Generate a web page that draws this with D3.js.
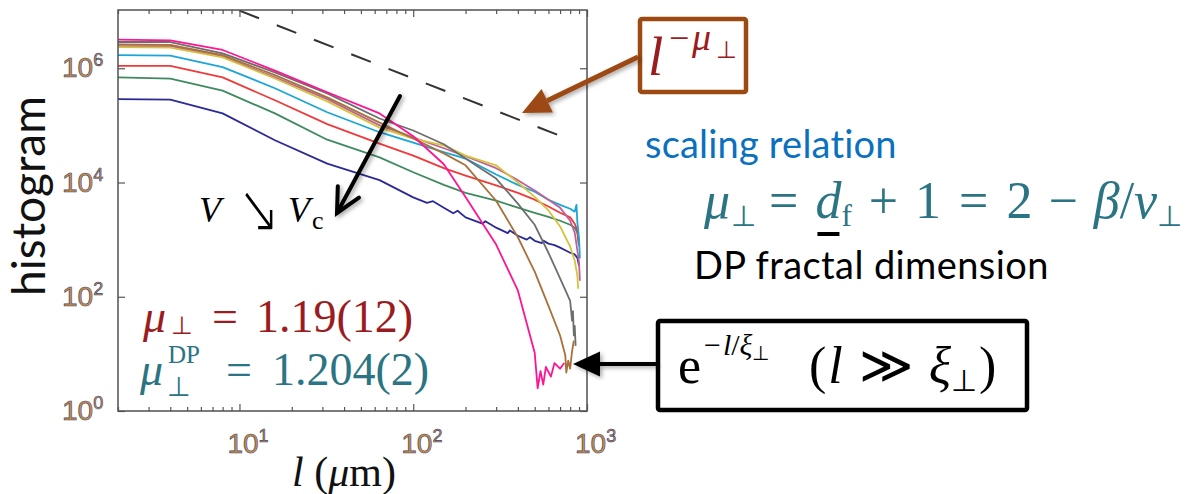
<!DOCTYPE html>
<html>
<head>
<meta charset="utf-8">
<script src="https://cdn.jsdelivr.net/npm/d3@7"></script>
<style>
  body { margin: 0; background: #fff; }
  svg { display: block; }
</style>
</head>
<body>
<svg id="chart" width="1202" height="494"></svg>
<script>
// Histogram curves, one per driving velocity (l in um, counts)
const magentaL = [2, 4, 8, 16, 32, 64, 100, 150, 200, 300, 400, 500, 520, 540, 560, 580, 620, 650, 700, 740];
const magentaN = [3.16e6, 3.09e6, 2.09e6, 9.1e5, 3.8e5, 1.62e5, 6.46e4, 2.09e4, 5.6e3, 820, 129, 10.5, 2.5, 5, 2.9, 5.9, 4, 6.9, 5.5, 6.9];

const grayL = [2, 4, 8, 16, 32, 64, 100, 150, 200, 300, 400, 500, 600, 700, 800, 820, 830, 840, 850, 860];
const grayN = [2.88e6, 2.88e6, 1.82e6, 8.5e5, 3.63e5, 1.32e5, 8.13e4, 4.68e4, 2.63e4, 1.17e4, 4.27e3, 1.82e3, 589, 209, 85, 38, 56, 21, 31, 13.8];

const brownL = [2, 4, 8, 16, 32, 64, 100, 150, 200, 300, 400, 500, 600, 700, 750, 760, 780, 800, 820, 840];
const brownN = [2.63e6, 2.57e6, 1.7e6, 7.59e5, 3.09e5, 1.12e5, 5.89e4, 3.24e4, 2.0e4, 4.79e3, 1.1e3, 275, 69, 21, 9.5, 4.7, 7.6, 5.5, 11, 17];

const mauveL = [2, 4, 8, 16, 32, 64, 100, 150, 200, 300, 400, 500, 600, 700, 800, 850, 880, 900, 910];
const mauveN = [2.45e6, 2.45e6, 1.62e6, 6.92e5, 2.88e5, 1.0e5, 6.17e4, 3.98e4, 2.88e4, 1.78e4, 1.1e4, 7.24e3, 5.0e3, 3.63e3, 2.14e3, 1.32e3, 646, 398, 190];

const yellowL = [2, 4, 8, 16, 32, 64, 100, 150, 200, 300, 400, 500, 600, 700, 800, 850, 880, 890];
const yellowN = [2.34e6, 2.29e6, 1.55e6, 6.61e5, 2.63e5, 9.12e4, 5.89e4, 4.47e4, 2.95e4, 2.0e4, 1.0e4, 5.6e3, 3.24e3, 1.7e3, 759, 427, 234, 138];

const cyanL = [2, 4, 8, 16, 32, 64, 100, 150, 200, 300, 400, 500, 600, 700, 800, 850, 870, 880, 900, 910];
const cyanN = [1.7e6, 1.66e6, 1.05e6, 4.47e5, 1.7e5, 7.59e4, 5.0e4, 3.39e4, 2.63e4, 1.38e4, 9.1e3, 6.9e3, 5.0e3, 4.07e3, 3.47e3, 3.09e3, 4.07e3, 2.0e3, 1.05e3, 468];

const redL = [2, 4, 8, 16, 32, 64, 100, 150, 200, 300, 400, 500, 600, 700, 800, 850, 880, 900];
const redN = [1.1e6, 1.1e6, 6.92e5, 2.75e5, 1.05e5, 4.79e4, 2.95e4, 1.78e4, 1.32e4, 8.9e3, 6.6e3, 5.0e3, 3.8e3, 2.95e3, 2.45e3, 1.9e3, 1.45e3, 776];

const greenL = [2, 4, 8, 16, 32, 64, 100, 150, 200, 300, 400, 500, 600, 700, 800, 850, 880, 900];
const greenN = [6.92e5, 6.61e5, 4.07e5, 1.62e5, 5.62e4, 2.75e4, 1.51e4, 9.1e3, 6.6e3, 4.8e3, 3.63e3, 2.95e3, 2.5e3, 2.14e3, 1.82e3, 1.62e3, 1.32e3, 776];

const navyL = [2, 4, 8, 16, 32, 64, 100, 120, 130, 150, 170, 180, 200, 250, 260, 300, 350, 360, 400, 450, 470, 500, 550, 560, 600, 650, 700, 750, 800, 850, 880, 900];
const navyN = [2.88e5, 2.82e5, 1.62e5, 5.5e4, 2.14e4, 1.1e4, 5.5e3, 4.4e3, 4.7e3, 3.63e3, 2.9e3, 3.2e3, 2.45e3, 1.9e3, 2.1e3, 1.62e3, 1.3e3, 1.45e3, 1.17e3, 1.0e3, 1.1e3, 955, 870, 960, 851, 800, 724, 650, 589, 550, 479, 347];

// colours, drawn in this order (first one at the bottom)
const seriesColors = ["#2a2a96", "#3f8a5e", "#f03a3a", "#1aa6d6", "#c0609a", "#d4c43c", "#6e6e6e", "#a8703a", "#ff1493"];
const seriesL = [navyL, greenL, redL, cyanL, mauveL, yellowL, grayL, brownL, magentaL];
const seriesN = [navyN, greenN, redN, cyanN, mauveN, yellowN, grayN, brownN, magentaN];

// power-law guide l^-mu
const guideL = [10, 767];
const guideN = [1.02e7, 5.9e4];

// tick values
const xMajor = [10, 100, 1000];
const xMinor = [2, 3, 4, 5, 6, 7, 8, 9, 20, 30, 40, 50, 60, 70, 80, 90, 200, 300, 400, 500, 600, 700, 800, 900];
const yMajor = [1, 100, 1e4, 1e6];

const svg = d3.select("#chart");

const pL = 118, pR = 587, pT = 10, pB = 411;
const x = d3.scaleLog().domain([2, 1000]).range([pL, pR]);
const y = d3.scaleLog().domain([1, Math.pow(10, 7.02)]).range([pB, pT]);

const defs = svg.append("defs");
defs.append("clipPath").attr("id", "plot-clip")
    .append("rect")
    .attr("x", pL).attr("y", pT)
    .attr("width", pR - pL).attr("height", pB - pT);

const shadow = defs.append("filter").attr("id", "shadow")
    .attr("x", "-20%").attr("y", "-20%").attr("width", "140%").attr("height", "140%");
shadow.append("feDropShadow")
    .attr("dx", 2).attr("dy", 2).attr("stdDeviation", 2)
    .attr("flood-color", "#000").attr("flood-opacity", 0.35);

// curves
const line = d3.line().x(d => x(d[0])).y(d => y(d[1]));
const curves = svg.append("g").attr("clip-path", "url(#plot-clip)");

curves.selectAll(".curve")
    .data(seriesL.map((ls, i) => ls.map((l, j) => [l, seriesN[i][j]])))
    .enter().append("path")
    .attr("class", "curve")
    .attr("d", line)
    .attr("fill", "none")
    .attr("stroke", (d, i) => seriesColors[i])
    .attr("stroke-width", 1.8)
    .attr("stroke-linejoin", "round");

// dashed guide
curves.append("path")
    .datum(guideL.map((l, i) => [l, guideN[i]]))
    .attr("d", line)
    .attr("fill", "none")
    .attr("stroke", "#333")
    .attr("stroke-width", 2)
    .attr("stroke-dasharray", "21,19");

// axes: inward ticks on all four sides
function cleanAxis(g) {
    g.select(".domain").remove();
    g.selectAll(".tick line").attr("stroke", "#555").attr("stroke-width", 1.2);
}

svg.append("g").attr("transform", `translate(0,${pB})`)
    .call(d3.axisBottom(x).tickValues(xMinor).tickSize(-4).tickFormat(""))
    .call(cleanAxis);
svg.append("g").attr("transform", `translate(0,${pB})`)
    .call(d3.axisBottom(x).tickValues(xMajor).tickSize(-7).tickFormat(""))
    .call(cleanAxis);
svg.append("g").attr("transform", `translate(0,${pT})`)
    .call(d3.axisTop(x).tickValues(xMinor).tickSize(-4).tickFormat(""))
    .call(cleanAxis);
svg.append("g").attr("transform", `translate(0,${pT})`)
    .call(d3.axisTop(x).tickValues(xMajor).tickSize(-7).tickFormat(""))
    .call(cleanAxis);
svg.append("g").attr("transform", `translate(${pL},0)`)
    .call(d3.axisLeft(y).tickValues(yMajor).tickSize(-7).tickFormat(""))
    .call(cleanAxis);
svg.append("g").attr("transform", `translate(${pR},0)`)
    .call(d3.axisRight(y).tickValues(yMajor).tickSize(-7).tickFormat(""))
    .call(cleanAxis);

svg.append("rect")
    .attr("x", pL).attr("y", pT)
    .attr("width", pR - pL).attr("height", pB - pT)
    .attr("fill", "none")
    .attr("stroke", "#505050")
    .attr("stroke-width", 1.5);

// tick labels as 10^n
function powerLabel(sel) {
    sel.attr("font-family", "'Liberation Sans', Arial, sans-serif")
        .attr("font-size", 28)
        .attr("fill", "#c98b3c")
        .attr("stroke", "#34427e")
        .attr("stroke-width", 0.6);
    sel.append("tspan").text("10");
    sel.append("tspan")
        .attr("font-size", 18)
        .attr("dy", -11)
        .text(d => Math.round(Math.log10(d)));
}

svg.selectAll(".ylab")
    .data(yMajor)
    .enter().append("text")
    .attr("class", "ylab")
    .attr("x", 62)
    .attr("y", d => y(d) + 9)
    .call(powerLabel);

svg.selectAll(".xlab")
    .data(xMajor)
    .enter().append("text")
    .attr("class", "xlab")
    .attr("x", d => x(d) - 12)
    .attr("y", 453)
    .call(powerLabel);

// axis titles
svg.append("text")
    .attr("transform", "translate(45,196) rotate(-90)")
    .attr("text-anchor", "middle")
    .attr("font-family", "Lato, 'Open Sans', sans-serif")
    .attr("font-size", 46)
    .attr("fill", "#111")
    .text("histogram");

const serif = "'Liberation Serif', 'Times New Roman', serif";

const xTitle = svg.append("text")
    .attr("x", 292).attr("y", 486)
    .attr("font-family", serif)
    .attr("font-size", 42)
    .attr("fill", "#111");
xTitle.append("tspan").attr("font-style", "italic").text("l");
xTitle.append("tspan").text(" (");
xTitle.append("tspan").attr("font-style", "italic").text("μ");
xTitle.append("tspan").text("m)");

// arrows
function arrowHead(tip, from, len, half) {
    const dx = tip[0] - from[0], dy = tip[1] - from[1];
    const n = Math.hypot(dx, dy);
    const ux = dx / n, uy = dy / n;
    const bx = tip[0] - len * ux, by = tip[1] - len * uy;
    return { base: [bx, by], a: [bx - half * uy, by + half * ux], b: [bx + half * uy, by - half * ux] };
}

// V -> Vc arrow inside plot
{
    const from = [400, 96], tip = [337, 213];
    const h = arrowHead(tip, from, 24, 12);
    const g = svg.append("g").attr("filter", "url(#shadow)")
        .attr("stroke", "#000").attr("stroke-width", 4).attr("stroke-linecap", "round").attr("fill", "none");
    g.append("line").attr("x1", from[0]).attr("y1", from[1]).attr("x2", tip[0]).attr("y2", tip[1]);
    g.append("path").attr("d", `M${h.a}L${tip}L${h.b}`).attr("stroke-linejoin", "miter");
}

svg.append("text").attr("x", 199).attr("y", 222)
    .attr("font-family", serif).attr("font-style", "italic").attr("font-size", 36).text("V");
svg.append("text").attr("transform", "translate(238,232) scale(1,1.35)")
    .attr("font-family", "'DejaVu Sans', sans-serif").attr("font-size", 50).attr("font-weight", 200).text("↘");
svg.append("text").attr("x", 288).attr("y", 222)
    .attr("font-family", serif).attr("font-style", "italic").attr("font-size", 36).text("V");
svg.append("text").attr("x", 312).attr("y", 229)
    .attr("font-family", serif).attr("font-size", 26).text("c");

// exponent results
const red = "#9b1c20", teal = "#2b7483";
const m1 = svg.append("text").attr("y", 332)
    .attr("font-family", serif).attr("font-size", 46).attr("fill", red);
m1.append("tspan").attr("x", 143).attr("font-style", "italic").text("μ");
m1.append("tspan").attr("x", 171).attr("font-size", 25).attr("dy", 2).text("⊥");
m1.append("tspan").attr("x", 212).attr("dy", -2).text("=");
m1.append("tspan").attr("x", 256).text("1.19(12)");

const m2 = svg.append("text").attr("y", 385)
    .attr("font-family", serif).attr("font-size", 46).attr("fill", teal);
m2.append("tspan").attr("x", 140).attr("font-style", "italic").text("μ");
m2.append("tspan").attr("x", 167).attr("font-size", 27).attr("dy", 11).text("⊥");
m2.append("tspan").attr("x", 168).attr("font-size", 25).attr("dy", -33).text("DP");
m2.append("tspan").attr("x", 226).attr("dy", 22).text("=");
m2.append("tspan").attr("x", 272).text("1.204(2)");

// right-hand annotations
const brown = "#9c4a12";
svg.append("rect").attr("x", 640).attr("y", 19).attr("width", 106).attr("height", 73)
    .attr("fill", "#fff").attr("stroke", brown).attr("stroke-width", 4.5).attr("rx", 2);
const pl = svg.append("text").attr("y", 75)
    .attr("font-family", serif).attr("font-size", 55).attr("fill", red);
pl.append("tspan").attr("x", 648).attr("font-style", "italic").text("l");
pl.append("tspan").attr("x", 669).attr("font-size", 36).attr("dy", -25).text("−");
pl.append("tspan").attr("x", 692).attr("font-size", 38).attr("font-style", "italic").text("μ");
pl.append("tspan").attr("x", 716).attr("font-size", 24).attr("dy", 8).text("⊥");

{
    const from = [638, 57], tip = [522, 113];
    const h = arrowHead(tip, from, 28, 13);
    const g = svg.append("g").attr("filter", "url(#shadow)");
    g.append("line").attr("x1", from[0]).attr("y1", from[1]).attr("x2", h.base[0]).attr("y2", h.base[1])
        .attr("stroke", brown).attr("stroke-width", 5);
    g.append("path").attr("d", `M${h.a}L${tip}L${h.b}Z`).attr("fill", brown);
}

const sans = "Lato, 'Open Sans', sans-serif";
svg.append("text").attr("x", 645).attr("y", 158)
    .attr("font-family", sans).attr("font-size", 38).attr("letter-spacing", 0.2).attr("fill", "#0a70c0")
    .text("scaling relation");

const eq = svg.append("text").attr("x", 704).attr("y", 218)
    .attr("font-family", serif).attr("font-size", 52).attr("fill", teal);
eq.append("tspan").attr("font-style", "italic").text("μ");
eq.append("tspan").attr("font-size", 29).attr("dy", 8).attr("dx", 1).text("⊥");
eq.append("tspan").attr("dy", -8).attr("dx", 13).text("=");
const dTs = eq.append("tspan").attr("dx", 17).attr("font-style", "italic").text("d");
eq.append("tspan").attr("font-size", 31).attr("dy", 8).text("f");
eq.append("tspan").attr("dy", -8).attr("dx", 17).text("+");
eq.append("tspan").attr("dx", 17).text("1");
eq.append("tspan").attr("dx", 18).text("=");
eq.append("tspan").attr("dx", 18).text("2");
eq.append("tspan").attr("dx", 16).text("−");
eq.append("tspan").attr("dx", 16).attr("font-style", "italic").text("β");
eq.append("tspan").text("/");
eq.append("tspan").attr("font-style", "italic").text("ν");
eq.append("tspan").attr("font-size", 29).attr("dy", 8).text("⊥");

// underline bar marking d_f
{
    const s = dTs.node().getStartPositionOfChar(0).x;
    const e = dTs.node().getEndPositionOfChar(0).x;
    svg.append("rect").attr("x", (s + e) / 2 - 11).attr("y", 232).attr("width", 22).attr("height", 4).attr("fill", "#000");
}

svg.append("text").attr("x", 694).attr("y", 279)
    .attr("font-family", sans).attr("font-size", 38).attr("letter-spacing", 0.4).attr("fill", "#000")
    .text("DP fractal dimension");

svg.append("rect").attr("x", 658).attr("y", 321).attr("width", 369).attr("height", 89)
    .attr("fill", "#fff").attr("stroke", "#000").attr("stroke-width", 4.5).attr("rx", 2);
const ex = svg.append("text").attr("y", 383)
    .attr("font-family", serif).attr("font-size", 52).attr("fill", "#000");
ex.append("tspan").attr("x", 678).text("e");
ex.append("tspan").attr("x", 704).attr("font-size", 30).attr("dy", -28).text("−");
ex.append("tspan").attr("font-size", 30).attr("font-style", "italic").attr("dx", 2).text("l");
ex.append("tspan").attr("font-size", 30).text("/");
ex.append("tspan").attr("font-size", 30).attr("font-style", "italic").text("ξ");
ex.append("tspan").attr("font-size", 20).attr("dy", 5).text("⊥");
ex.append("tspan").attr("x", 809).attr("dy", 23).text("(");
ex.append("tspan").attr("font-style", "italic").attr("dx", 2).text("l");
ex.append("tspan").attr("dx", 16).text("≫");
ex.append("tspan").attr("dx", 16).attr("font-style", "italic").text("ξ");
ex.append("tspan").attr("font-size", 30).attr("dy", 8).text("⊥");
ex.append("tspan").attr("dy", -8).attr("dx", 2).text(")");

{
    const from = [657, 364], tip = [573, 364];
    const h = arrowHead(tip, from, 27, 12.5);
    const g = svg.append("g").attr("filter", "url(#shadow)");
    g.append("line").attr("x1", from[0]).attr("y1", from[1]).attr("x2", h.base[0]).attr("y2", h.base[1])
        .attr("stroke", "#000").attr("stroke-width", 4);
    g.append("path").attr("d", `M${h.a}L${tip}L${h.b}Z`).attr("fill", "#000");
}
</script>
</body>
</html>
